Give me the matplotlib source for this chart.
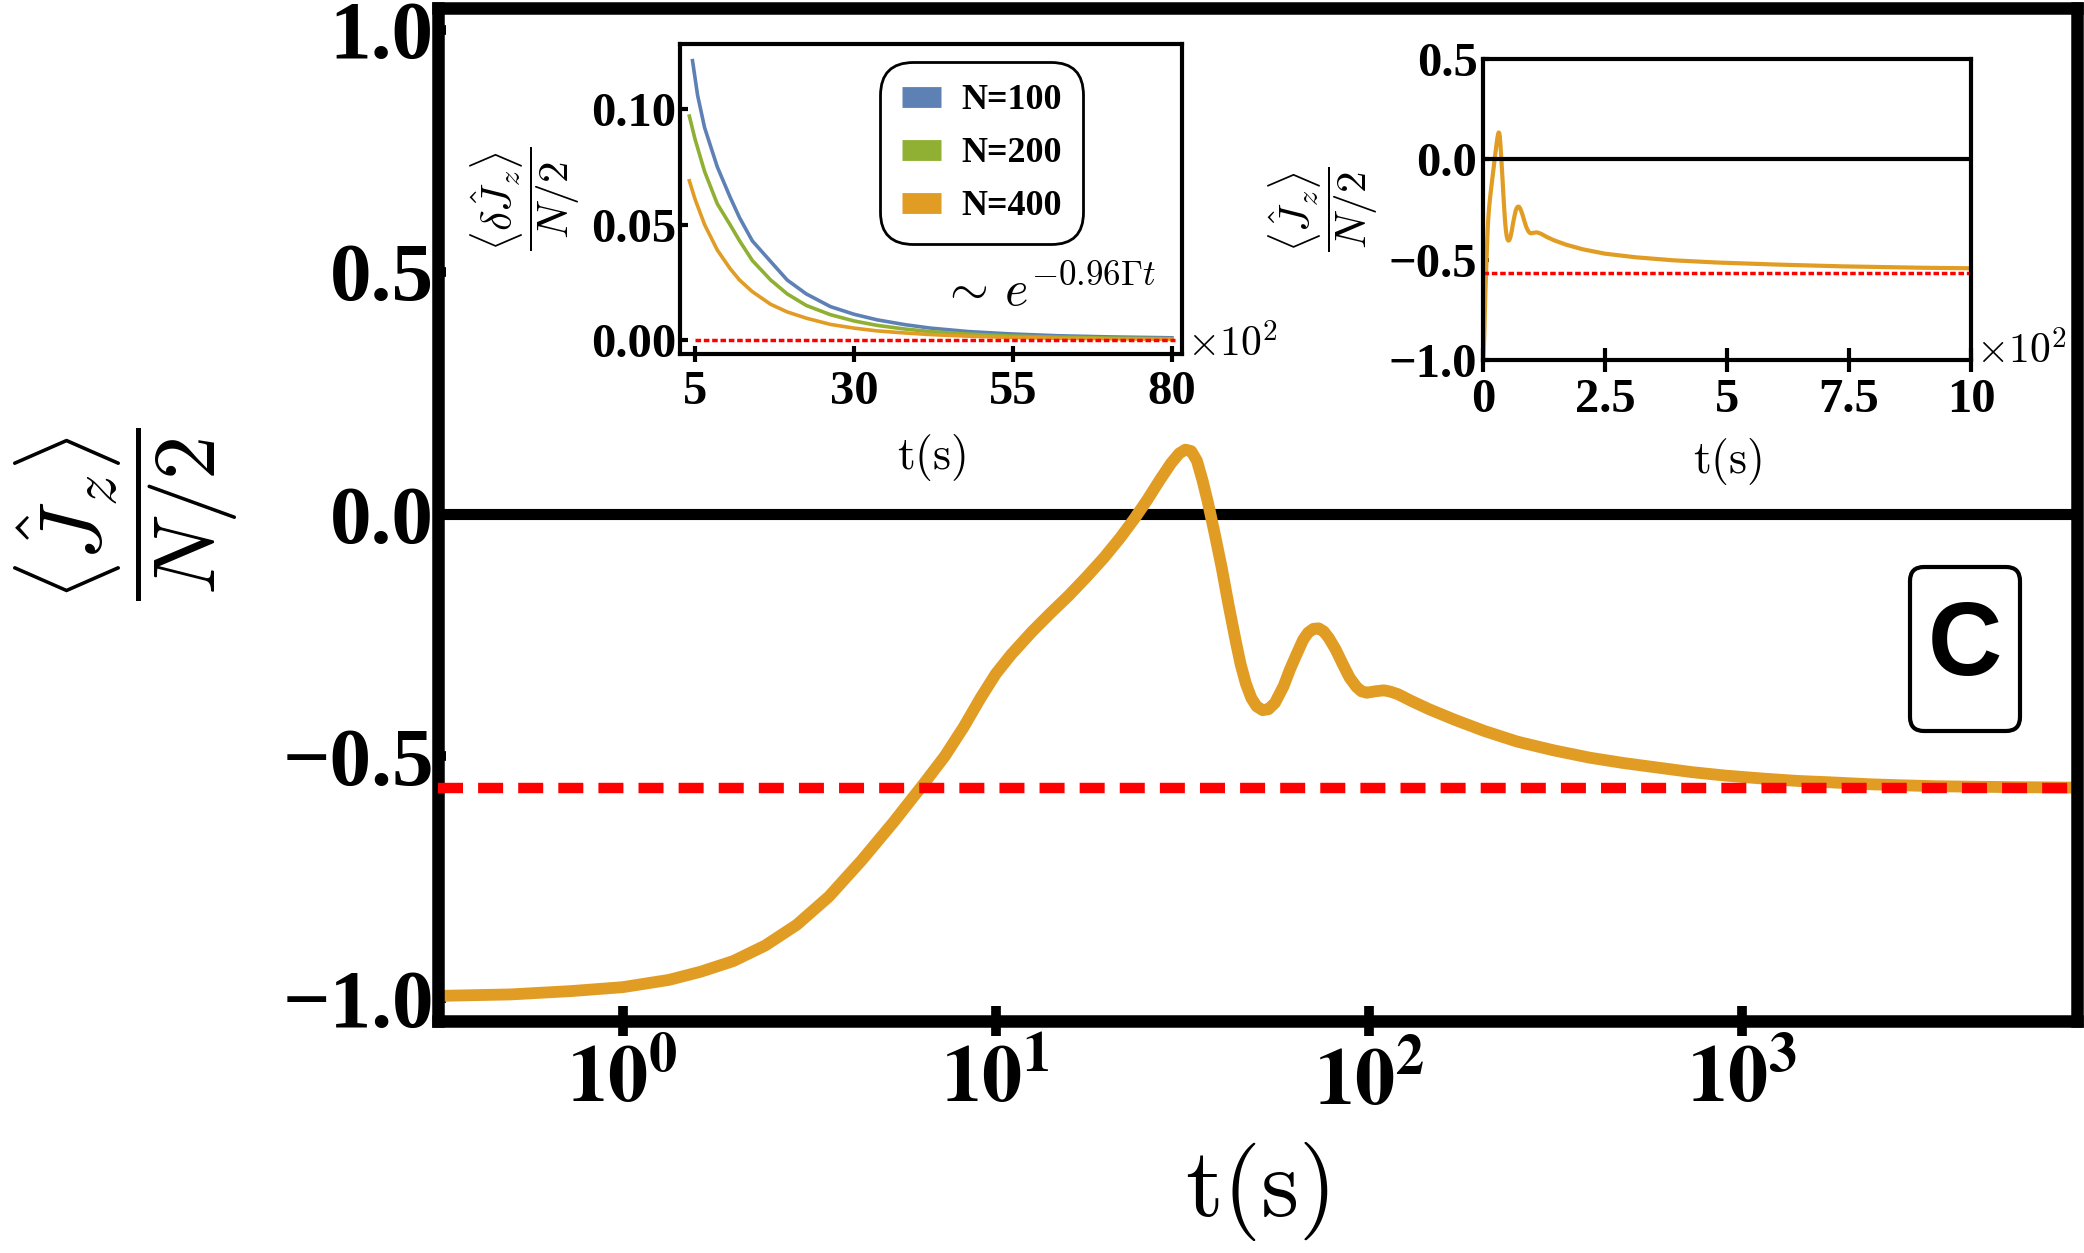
import numpy as np
import matplotlib.pyplot as plt
from matplotlib.patches import FancyBboxPatch

plt.rcParams['mathtext.fontset'] = 'cm'
plt.rcParams['font.family'] = 'Liberation Serif'
plt.rcParams['font.weight'] = 'bold'
plt.rcParams['axes.unicode_minus'] = True

# main curve <Jz>/(N/2) vs t (s)
t_main = [0.32, 0.5, 0.73, 1.0, 1.33, 1.62, 1.98, 2.41, 2.93, 3.57,
          4.36, 5.31, 6.47, 7.3, 8.2, 9.1, 10.0, 11.0, 12.5, 14.0,
          15.7, 17.5, 19.5, 21.5, 23.5, 25.5, 27.5, 29.5, 31.0, 32.2,
          33.4, 34.6, 35.8, 37.0, 38.6, 40.3, 42.0, 43.9, 45.3, 46.8,
          48.4, 50.0, 51.9, 53.8, 56.0, 59.1, 61.5, 64.4, 66.6, 68.7,
          71.0, 73.3, 75.6, 78.1, 81.5, 85.1, 88.8, 92.6, 95.5, 98.7,
          104, 109.8, 114.5, 119.7, 130, 145, 170, 204, 250, 313,
          390, 480, 600, 735, 900, 1127, 1400, 1727, 2200, 2649,
          3300, 4064, 5500, 7900]
jz_main = [-0.995, -0.992, -0.985, -0.977, -0.962, -0.945, -0.923, -0.891, -0.848, -0.79,
           -0.716, -0.637, -0.553, -0.50, -0.44, -0.38, -0.33, -0.29, -0.243, -0.205,
           -0.168, -0.13, -0.09, -0.05, -0.01, 0.03, 0.07, 0.105, 0.125, 0.133,
           0.13, 0.11, 0.07, 0.025, -0.04, -0.11, -0.185, -0.26, -0.31, -0.35,
           -0.38, -0.397, -0.405, -0.403, -0.39, -0.355, -0.32, -0.285, -0.26, -0.245,
           -0.237, -0.236, -0.242, -0.256, -0.28, -0.31, -0.338, -0.357, -0.366, -0.369,
           -0.366, -0.364, -0.367, -0.372, -0.386, -0.403, -0.425, -0.448, -0.47, -0.488,
           -0.503, -0.514, -0.524, -0.533, -0.540, -0.546, -0.551, -0.554, -0.558, -0.560,
           -0.562, -0.563, -0.564, -0.565]
steady = -0.565

# inset: fluctuations vs t (units of 10^2 s)
t_n100 = [4.6, 5.4, 6.5, 8.5, 10.5, 12.0, 14.0, 16.9, 19.5, 22.5, 26.3, 30, 33.6, 38, 42, 48, 54.5, 62, 70, 80]
dj_n100 = [0.121, 0.106, 0.092, 0.075, 0.062, 0.053, 0.043, 0.034, 0.026, 0.020, 0.0145,
           0.0112, 0.0088, 0.0067, 0.0052, 0.0037, 0.0027, 0.0019, 0.0014, 0.0010]
t_n200 = [4.1, 5.0, 6.5, 8.5, 10.5, 12.0, 14.0, 16.9, 19.5, 22.5, 26.3, 30, 33.6, 38, 42, 48, 54.5, 62, 70, 80]
dj_n200 = [0.097, 0.087, 0.073, 0.059, 0.050, 0.043, 0.0345, 0.026, 0.020, 0.0150, 0.0110,
           0.0083, 0.0064, 0.0048, 0.0037, 0.0026, 0.0018, 0.0013, 0.0009, 0.0006]
t_n400 = [4.1, 5.0, 6.5, 8.5, 10.5, 12.0, 14.0, 16.9, 19.5, 22.5, 26.3, 30, 33.6, 38, 42, 48, 54.5, 62, 70, 80]
dj_n400 = [0.069, 0.061, 0.050, 0.039, 0.031, 0.026, 0.021, 0.0155, 0.0122, 0.0095, 0.0068,
           0.0052, 0.0040, 0.0031, 0.0024, 0.0017, 0.0012, 0.0008, 0.0006, 0.0004]
labels_n = ['N=100', 'N=200', 'N=400']
colors_n = ['#5E81B5', '#8FB032', '#E19C24']

orange = '#E19C24'
main_yticks = [-1.0, -0.5, 0.0, 0.5, 1.0]
main_ylabels = ['\u22121.0', '\u22120.5', '0.0', '0.5', '1.0']
main_xticks = [1, 10, 100, 1000]
main_xlabels = [r'$\mathbf{10^{0}}$', r'$\mathbf{10^{1}}$', r'$\mathbf{10^{2}}$', r'$\mathbf{10^{3}}$']
in1_xticks = [5, 30, 55, 80]
in1_yticks = [0.0, 0.05, 0.10]
in1_ylabels = ['0.00', '0.05', '0.10']
in2_xticks = [0, 2.5, 5, 7.5, 10]
in2_xlabels = ['0', '2.5', '5', '7.5', '10']
in2_yticks = [-1.0, -0.5, 0.0, 0.5]
in2_ylabels = ['\u22121.0', '\u22120.5', '0.0', '0.5']

fig = plt.figure(figsize=(20.84, 12.53), dpi=100)

# ---- main panel
ax = fig.add_axes([0.2102, 0.1851, 0.7864, 0.8089])
ax.set_xscale('log')
ax.plot(t_main, jz_main, color=orange, lw=8.5, solid_capstyle='butt', solid_joinstyle='round', zorder=2)
ax.axhline(steady, color='red', lw=7.5, dashes=(2.4, 1.45), zorder=3)
ax.axhline(0, color='black', lw=8, zorder=1)
ax.set_xlim(0.32, 7900)
ax.set_ylim(-1.047, 1.046)
ax.set_xticks(main_xticks)
ax.set_xticklabels(main_xlabels, fontsize=58, math_fontfamily='stix')
ax.minorticks_off()
ax.set_yticks(main_yticks)
ax.set_yticklabels(main_ylabels, fontsize=60, fontweight='bold')
ax.tick_params(axis='x', direction='inout', length=22, width=7, pad=6)
ax.tick_params(axis='y', direction='in', length=6, width=7, pad=3)
for s in ax.spines.values():
    s.set_linewidth(9)
ax.set_xlabel(r'$\mathrm{t}(\mathrm{s})$', fontsize=70)
ax.xaxis.set_label_coords(0.5, -0.117)
ax.xaxis.label.set_va('top')
ax.text(-0.121, 0.5, r'$\dfrac{\langle \hat{J}_z \rangle}{N/2}$', transform=ax.transAxes,
        rotation=90, ha='right', va='center', fontsize=64)

# panel tag
tag = FancyBboxPatch((19.10, 5.22), 1.10, 1.64, boxstyle='round,pad=0,rounding_size=0.14',
                     transform=fig.dpi_scale_trans, fc='white', ec='black', lw=3, clip_on=False)
ax.add_patch(tag)
ax.text(19.65, 6.04, 'C', transform=fig.dpi_scale_trans, ha='center', va='center',
        fontsize=74, family='Liberation Sans', fontweight='bold')

# ---- inset 1: fluctuations
a1 = fig.add_axes([0.3265, 0.7175, 0.2407, 0.2470])
a1.set_facecolor('white')
for tt, dd, lab, c in zip([t_n100, t_n200, t_n400], [dj_n100, dj_n200, dj_n400], labels_n, colors_n):
    a1.plot(tt, dd, color=c, lw=2.6, label=lab)
a1.axhline(0, xmin=0.03, xmax=0.985, color='red', lw=2.5, dashes=(1.6, 0.8))
a1.set_xlim(2.7, 81.6)
a1.set_ylim(-0.006, 0.128)
a1.set_xticks(in1_xticks)
a1.set_xticklabels([str(v) for v in in1_xticks], fontsize=35, fontweight='bold')
a1.set_yticks(in1_yticks)
a1.set_yticklabels(in1_ylabels, fontsize=35, fontweight='bold')
a1.tick_params(axis='x', direction='inout', length=11, width=3, pad=6)
a1.tick_params(axis='y', direction='in', length=6, width=3, pad=3)
for s in a1.spines.values():
    s.set_linewidth(3)
a1.set_xlabel(r'$\mathrm{t}(\mathrm{s})$', fontsize=33)
a1.xaxis.set_label_coords(0.5, -0.252)
a1.xaxis.label.set_va('top')
a1.text(-0.196, 0.5, r'$\dfrac{\langle \delta\hat{J}_z \rangle}{N/2}$', transform=a1.transAxes,
        rotation=90, ha='right', va='center', fontsize=31)
a1.text(1.01, -0.01, r'$\times10^{2}$', transform=a1.transAxes, ha='left', va='baseline', fontsize=30)
a1.text(0.52, 0.12, r'$\sim\, e^{-0.96\Gamma t}$', transform=a1.transAxes, ha='left', va='bottom', fontsize=36)
leg = a1.legend(loc='upper left', bbox_to_anchor=(0.398, 0.943), borderaxespad=0,
                handlelength=1.1, handleheight=0.55, handletextpad=0.55, labelspacing=0.55,
                borderpad=0.6, fancybox=True, framealpha=1, edgecolor='black',
                prop={'family': 'Liberation Serif', 'weight': 'bold', 'size': 26})
leg.get_frame().set_linewidth(2)
leg.get_frame().set_boxstyle('round', pad=0, rounding_size=0.9)
for h in leg.legend_handles:
    h.set_linewidth(15)
    h.set_solid_capstyle('butt')

# ---- inset 2: linear time
a2 = fig.add_axes([0.7116, 0.7125, 0.2342, 0.2407])
a2.set_facecolor('white')
a2.plot(np.array(t_main) / 100, jz_main, color=orange, lw=3)
a2.axhline(steady, color='red', lw=2.5, dashes=(1.6, 0.8))
a2.axhline(0, color='black', lw=3)
a2.set_xlim(0, 10)
a2.set_ylim(-1.0, 0.5)
a2.set_xticks(in2_xticks)
a2.set_xticklabels(in2_xlabels, fontsize=35, fontweight='bold')
a2.set_yticks(in2_yticks)
a2.set_yticklabels(in2_ylabels, fontsize=35, fontweight='bold')
a2.tick_params(axis='x', direction='inout', length=17, width=3, pad=4)
a2.tick_params(axis='y', direction='in', length=4, width=3, pad=4)
for s in a2.spines.values():
    s.set_linewidth(3)
a2.set_xlabel(r'$\mathrm{t}(\mathrm{s})$', fontsize=33)
a2.xaxis.set_label_coords(0.5, -0.251)
a2.xaxis.label.set_va('top')
a2.text(-0.21, 0.5, r'$\dfrac{\langle \hat{J}_z \rangle}{N/2}$', transform=a2.transAxes,
        rotation=90, ha='right', va='center', fontsize=31)
a2.text(1.01, -0.01, r'$\times10^{2}$', transform=a2.transAxes, ha='left', va='baseline', fontsize=30)

fig.savefig('out.png', dpi=100)
